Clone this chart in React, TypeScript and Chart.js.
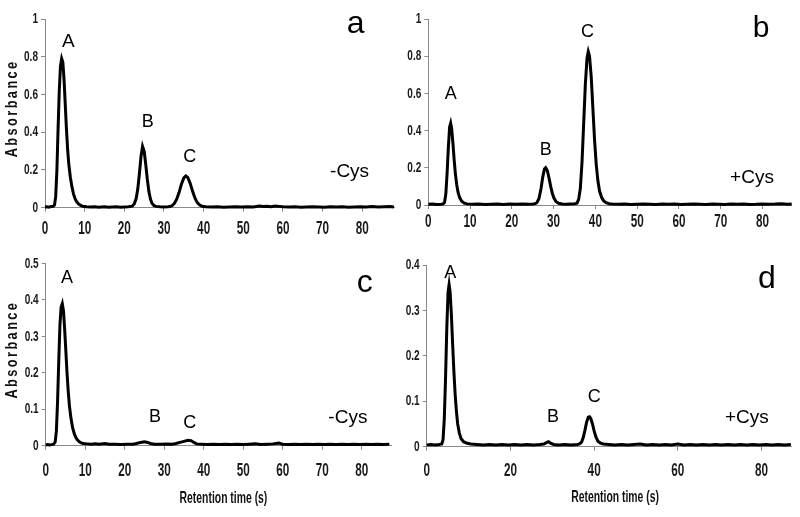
import React, { useEffect, useRef } from "react";
import { Chart, registerables } from "chart.js";

Chart.register(...registerables);

// ---------- DATA ----------
// Panel a (-Cys)
const timeA = [0, 0.5, 1, 1.5, 2, 2.4, 2.7, 3.0, 3.3, 3.6, 3.9, 4.2, 4.5, 4.8, 5.1, 5.4, 5.7, 6.0, 6.4, 6.8, 7.2, 7.6, 8.0, 8.5, 9, 9.5, 10.5, 11.5, 12.5, 13.5, 15, 16, 17, 18, 19, 20, 21, 22, 22.5, 23, 23.4, 23.8, 24.2, 24.6, 25, 25.4, 25.8, 26.2, 26.6, 27, 27.5, 28, 29, 30, 31, 31.5, 32, 32.6, 33.2, 33.8, 34.4, 35, 35.5, 36, 36.6, 37.2, 37.8, 38.4, 39, 39.6, 40.5, 42, 43.5, 45, 46.5, 48, 49.5, 51, 52.5, 54, 55, 56, 57, 58, 59, 60, 61.5, 63, 64.5, 66, 67.5, 69, 70.5, 72, 73.5, 75, 76.5, 78, 79.5, 81, 82.5, 84, 85.5, 87, 88];
const absA = [0.004, 0.005, 0.003, 0.006, 0.006, 0.014, 0.06, 0.2, 0.42, 0.62, 0.75, 0.79, 0.77, 0.68, 0.55, 0.42, 0.31, 0.23, 0.16, 0.11, 0.072, 0.047, 0.031, 0.019, 0.012, 0.008, 0.005, 0.004, 0.005, 0.003, 0.005, 0.003, 0.004, 0.005, 0.003, 0.004, 0.005, 0.008, 0.02, 0.05, 0.1, 0.18, 0.27, 0.325, 0.3, 0.23, 0.15, 0.085, 0.045, 0.022, 0.011, 0.007, 0.005, 0.004, 0.005, 0.006, 0.01, 0.022, 0.045, 0.08, 0.125, 0.158, 0.168, 0.16, 0.13, 0.088, 0.052, 0.027, 0.014, 0.008, 0.005, 0.004, 0.005, 0.003, 0.004, 0.005, 0.004, 0.005, 0.004, 0.009, 0.006, 0.008, 0.005, 0.009, 0.007, 0.005, 0.004, 0.005, 0.003, 0.004, 0.005, 0.004, 0.003, 0.005, 0.004, 0.005, 0.003, 0.004, 0.005, 0.004, 0.006, 0.004, 0.005, 0.006, 0.004];

// Panel b (+Cys)
const timeB = [0, 1, 2, 3, 3.5, 3.9, 4.2, 4.5, 4.8, 5.1, 5.35, 5.6, 5.9, 6.2, 6.5, 6.8, 7.1, 7.5, 8, 8.6, 9.3, 10.5, 12, 13.5, 15, 16.5, 18, 19.5, 21, 22.5, 24, 25, 25.5, 26, 26.5, 27, 27.4, 27.8, 28.1, 28.5, 28.9, 29.3, 29.7, 30.1, 30.6, 31.2, 32, 33, 34, 35, 35.6, 36, 36.4, 36.8, 37.2, 37.6, 38, 38.3, 38.6, 39, 39.4, 39.8, 40.2, 40.6, 41, 41.5, 42, 42.6, 43.3, 44, 45.5, 47, 48.5, 50, 51.5, 53, 54.5, 56, 57.5, 59, 60.5, 62, 63.5, 65, 66.5, 68, 69.5, 71, 72.5, 74, 75.5, 77, 78.5, 80, 81.5, 83, 84.5, 86, 87];
const absB = [0.004, 0.005, 0.003, 0.004, 0.005, 0.015, 0.06, 0.17, 0.31, 0.42, 0.44, 0.41, 0.33, 0.24, 0.165, 0.11, 0.07, 0.04, 0.02, 0.01, 0.006, 0.004, 0.005, 0.003, 0.004, 0.005, 0.003, 0.006, 0.004, 0.005, 0.004, 0.005, 0.006, 0.012, 0.035, 0.09, 0.15, 0.193, 0.2, 0.185, 0.145, 0.1, 0.062, 0.036, 0.018, 0.009, 0.005, 0.004, 0.005, 0.006, 0.01, 0.03, 0.09, 0.23, 0.44, 0.65, 0.79, 0.825, 0.8, 0.69, 0.52, 0.35, 0.22, 0.13, 0.075, 0.04, 0.022, 0.012, 0.007, 0.005, 0.004, 0.005, 0.003, 0.004, 0.005, 0.004, 0.003, 0.005, 0.004, 0.005, 0.003, 0.004, 0.005, 0.004, 0.003, 0.005, 0.004, 0.003, 0.005, 0.004, 0.005, 0.003, 0.004, 0.006, 0.004, 0.005, 0.007, 0.004, 0.006];

// Panel c (-Cys)
const timeC = [0, 0.5, 1, 1.5, 2, 2.4, 2.7, 3.0, 3.3, 3.6, 3.9, 4.2, 4.5, 4.8, 5.1, 5.4, 5.7, 6, 6.4, 6.8, 7.2, 7.6, 8, 8.5, 9, 9.5, 10.5, 11.5, 12.5, 13.5, 15, 16, 17.5, 19, 20.5, 22, 23, 24, 25, 25.8, 26.5, 27.5, 29, 30.5, 32, 33, 34, 35, 36, 36.8, 37.5, 38.2, 39.5, 41, 42.5, 44, 45.5, 47, 48.5, 50, 51.5, 53, 54.5, 56, 57.5, 59, 60, 61.5, 63, 64.5, 66, 67.5, 69, 70.5, 72, 73.5, 75, 76.5, 78, 79.5, 81, 82.5, 84, 85.5, 87];
const absC = [0.002, 0.003, 0.002, 0.003, 0.004, 0.01, 0.04, 0.12, 0.23, 0.33, 0.38, 0.39, 0.37, 0.32, 0.26, 0.2, 0.15, 0.11, 0.075, 0.05, 0.034, 0.023, 0.016, 0.011, 0.008, 0.006, 0.005, 0.004, 0.005, 0.004, 0.006, 0.004, 0.004, 0.003, 0.004, 0.004, 0.006, 0.009, 0.011, 0.009, 0.006, 0.004, 0.004, 0.005, 0.004, 0.006, 0.009, 0.012, 0.015, 0.014, 0.009, 0.005, 0.004, 0.003, 0.004, 0.003, 0.004, 0.003, 0.004, 0.003, 0.004, 0.005, 0.003, 0.004, 0.005, 0.007, 0.004, 0.003, 0.004, 0.003, 0.004, 0.003, 0.004, 0.003, 0.004, 0.003, 0.004, 0.003, 0.004, 0.003, 0.004, 0.003, 0.004, 0.003, 0.004];

// Panel d (+Cys)
const timeD = [0, 1, 2, 3, 3.6, 3.9, 4.2, 4.5, 4.8, 5.1, 5.35, 5.6, 5.9, 6.2, 6.5, 6.8, 7.1, 7.4, 7.8, 8.2, 8.8, 9.5, 10.5, 12, 13.5, 15, 16.5, 18, 19.5, 21, 22.5, 24, 25.5, 27, 28, 28.6, 29.1, 29.6, 30.3, 31.5, 33, 34.5, 36, 36.5, 37, 37.4, 37.8, 38.2, 38.6, 38.9, 39.2, 39.6, 40, 40.4, 40.9, 41.5, 42.2, 43.5, 45, 46.5, 48, 49.5, 51, 52.5, 54, 55.5, 57, 58.5, 60, 61.5, 63, 64.5, 66, 67.5, 69, 70.5, 72, 73.5, 75, 76.5, 78, 79.5, 81, 82.5, 84, 85.5, 87];
const absD = [0.004, 0.005, 0.004, 0.005, 0.006, 0.015, 0.06, 0.15, 0.26, 0.34, 0.357, 0.34, 0.29, 0.225, 0.165, 0.115, 0.078, 0.05, 0.03, 0.018, 0.011, 0.008, 0.006, 0.005, 0.004, 0.005, 0.004, 0.005, 0.004, 0.005, 0.004, 0.005, 0.004, 0.005, 0.006, 0.009, 0.011, 0.008, 0.005, 0.004, 0.005, 0.004, 0.005, 0.006, 0.01, 0.02, 0.036, 0.054, 0.065, 0.066, 0.062, 0.05, 0.035, 0.022, 0.012, 0.008, 0.006, 0.005, 0.004, 0.005, 0.004, 0.005, 0.006, 0.004, 0.005, 0.004, 0.005, 0.004, 0.006, 0.004, 0.005, 0.004, 0.005, 0.004, 0.005, 0.004, 0.005, 0.004, 0.005, 0.004, 0.005, 0.004, 0.005, 0.004, 0.005, 0.004, 0.005];

const yTitle = "Absorbance";
const xTitle = "Retention time (s)";

// ---------- STYLE ----------
const FONT = "'Liberation Sans', Arial, sans-serif";
const AXIS_COLOR = "#8a8a8a";
const TICK_COLOR = "#1a1a1a";
const SQUEEZE = 0.67; // horizontal condensation of axis text

type Label = { text: string; x: number; y: number; size: number };

type PanelSpec = {
  left: number; top: number; width: number; height: number;
  areaLeft: number; areaTop: number; areaRight: number; areaBottom: number;
  times: number[]; values: number[];
  xMax: number; xStep: number; yMax: number; yStep: number;
  xTickOffset: number;
  showXTitle: boolean; xTitleOffset: number;
  showYTitle: boolean;
  labels: Label[];
};

const panels: PanelSpec[] = [
  {
    left: 0, top: 0, width: 400, height: 248,
    areaLeft: 45, areaTop: 19, areaRight: 394, areaBottom: 207.7,
    times: timeA, values: absA, xMax: 88, xStep: 10, yMax: 1, yStep: 0.2,
    xTickOffset: 21.8, showXTitle: false, xTitleOffset: 0, showYTitle: true,
    labels: [
      { text: "A", x: 5.9, y: 0.878, size: 19 },
      { text: "B", x: 25.9, y: 0.454, size: 18 },
      { text: "C", x: 36.5, y: 0.27, size: 18 },
      { text: "-Cys", x: 76.8, y: 0.19, size: 19 },
      { text: "a", x: 78.3, y: 0.973, size: 32 },
    ],
  },
  {
    left: 400, top: 0, width: 400, height: 248,
    areaLeft: 28.3, areaTop: 19, areaRight: 391.7, areaBottom: 205,
    times: timeB, values: absB, xMax: 87, xStep: 10, yMax: 1, yStep: 0.2,
    xTickOffset: 16.7, showXTitle: false, xTitleOffset: 0, showYTitle: false,
    labels: [
      { text: "A", x: 5.4, y: 0.597, size: 18 },
      { text: "B", x: 28.1, y: 0.296, size: 18 },
      { text: "C", x: 38.1, y: 0.93, size: 18 },
      { text: "+Cys", x: 77.5, y: 0.145, size: 19 },
      { text: "b", x: 79.7, y: 0.95, size: 30 },
    ],
  },
  {
    left: 0, top: 248, width: 400, height: 269,
    areaLeft: 45.7, areaTop: 15.5, areaRight: 391.7, areaBottom: 197.7,
    times: timeC, values: absC, xMax: 87.6, xStep: 10, yMax: 0.5, yStep: 0.1,
    xTickOffset: 25.3, showXTitle: true, xTitleOffset: 52.3, showYTitle: true,
    labels: [
      { text: "A", x: 5.4, y: 0.46, size: 18 },
      { text: "B", x: 27.7, y: 0.079, size: 18 },
      { text: "C", x: 36.5, y: 0.062, size: 18 },
      { text: "-Cys", x: 76.5, y: 0.076, size: 19 },
      { text: "c", x: 80.8, y: 0.447, size: 32 },
    ],
  },
  {
    left: 400, top: 248, width: 400, height: 269,
    areaLeft: 26.7, areaTop: 17, areaRight: 391.7, areaBottom: 198.7,
    times: timeD, values: absD, xMax: 87.2, xStep: 20, yMax: 0.4, yStep: 0.1,
    xTickOffset: 24.3, showXTitle: true, xTitleOffset: 50.3, showYTitle: false,
    labels: [
      { text: "A", x: 5.6, y: 0.383, size: 18 },
      { text: "B", x: 30.2, y: 0.066, size: 18 },
      { text: "C", x: 40, y: 0.11, size: 18 },
      { text: "+Cys", x: 76.5, y: 0.063, size: 19 },
      { text: "d", x: 81.3, y: 0.368, size: 32 },
    ],
  },
];

const fmt = (v: number) => String(Number(v.toFixed(2)));

function drawSqueezed(
  ctx: CanvasRenderingContext2D, text: string, x: number, y: number,
  font: string, align: CanvasTextAlign, sx: number
) {
  ctx.save();
  ctx.translate(x, y);
  ctx.scale(sx, 1);
  ctx.font = font;
  ctx.textAlign = align;
  ctx.textBaseline = "middle";
  ctx.fillText(text, 0, 0);
  ctx.restore();
}

function Panel({ spec }: { spec: PanelSpec }) {
  const ref = useRef<HTMLCanvasElement | null>(null);

  useEffect(() => {
    const canvas = ref.current;
    if (!canvas) return;

    const textPlugin = {
      id: "panelText",
      afterDraw(chart: any) {
        const ctx: CanvasRenderingContext2D = chart.ctx;
        const xs = chart.scales.x;
        const ys = chart.scales.y;
        const area = chart.chartArea;

        // axis tick labels
        ctx.save();
        ctx.fillStyle = TICK_COLOR;
        for (const t of xs.ticks) {
          drawSqueezed(ctx, fmt(t.value), xs.getPixelForValue(t.value), area.bottom + spec.xTickOffset,
            `bold 17.5px ${FONT}`, "center", SQUEEZE);
        }
        for (const t of ys.ticks) {
          drawSqueezed(ctx, fmt(t.value), area.left - 7, ys.getPixelForValue(t.value),
            `bold 15px ${FONT}`, "right", SQUEEZE);
        }
        if (spec.showXTitle) {
          ctx.fillStyle = "#111";
          drawSqueezed(ctx, xTitle, xs.getPixelForValue(45), area.bottom + spec.xTitleOffset,
            `bold 16.5px ${FONT}`, "center", 0.63);
        }
        ctx.restore();

        // peak labels and panel letters
        ctx.save();
        ctx.fillStyle = "#000";
        ctx.textAlign = "center";
        ctx.textBaseline = "middle";
        for (const l of spec.labels) {
          ctx.font = `${l.size}px ${FONT}`;
          ctx.fillText(l.text, xs.getPixelForValue(l.x), ys.getPixelForValue(l.y));
        }
        ctx.restore();

        if (spec.showYTitle) {
          ctx.save();
          ctx.translate(13, (area.top + area.bottom) / 2 - 5);
          ctx.rotate(-Math.PI / 2);
          ctx.scale(0.8, 1);
          ctx.font = `bold 16px ${FONT}`;
          (ctx as any).letterSpacing = "3px";
          ctx.fillStyle = "#111";
          ctx.textAlign = "center";
          ctx.textBaseline = "middle";
          ctx.fillText(yTitle, 0, 0);
          ctx.restore();
        }
      },
    };

    const chart = new Chart(canvas, {
      type: "line",
      data: {
        datasets: [
          {
            data: spec.times.map((t, i) => ({ x: t, y: spec.values[i] })),
            borderColor: "#000",
            borderWidth: 3,
            pointRadius: 0,
            tension: 0,
            fill: false,
            clip: false as any,
          },
        ],
      },
      options: {
        responsive: false,
        animation: false,
        devicePixelRatio: 1,
        layout: {
          padding: { left: 0, top: spec.areaTop, right: spec.width - spec.areaRight, bottom: 0 },
        },
        plugins: {
          legend: { display: false },
          tooltip: { enabled: false },
          title: { display: false },
        },
        scales: {
          x: {
            type: "linear",
            min: 0,
            max: spec.xMax,
            ticks: { stepSize: spec.xStep, includeBounds: false, autoSkip: false, maxRotation: 0, display: false },
            grid: { drawOnChartArea: false, drawTicks: true, tickLength: 4, color: AXIS_COLOR },
            border: { display: true, color: AXIS_COLOR, width: 1 },
            afterFit: (s: any) => {
              s.height = spec.height - spec.areaBottom;
            },
          },
          y: {
            type: "linear",
            min: 0,
            max: spec.yMax,
            ticks: { stepSize: spec.yStep, display: false },
            grid: { drawOnChartArea: false, drawTicks: true, tickLength: 4, color: AXIS_COLOR },
            border: { display: true, color: AXIS_COLOR, width: 1 },
            afterFit: (s: any) => {
              s.width = spec.areaLeft;
            },
          },
        },
      },
      plugins: [textPlugin],
    } as any);

    return () => chart.destroy();
  }, [spec]);

  return (
    <canvas
      ref={ref}
      width={spec.width}
      height={spec.height}
      style={{
        position: "absolute",
        left: spec.left,
        top: spec.top,
        width: spec.width,
        height: spec.height,
      }}
    />
  );
}

export default function App() {
  return (
    <div
      style={{
        position: "absolute",
        left: 0,
        top: 0,
        width: 800,
        height: 517,
        background: "#fff",
        overflow: "hidden",
      }}
    >
      {panels.map((p, i) => (
        <Panel key={i} spec={p} />
      ))}
    </div>
  );
}
